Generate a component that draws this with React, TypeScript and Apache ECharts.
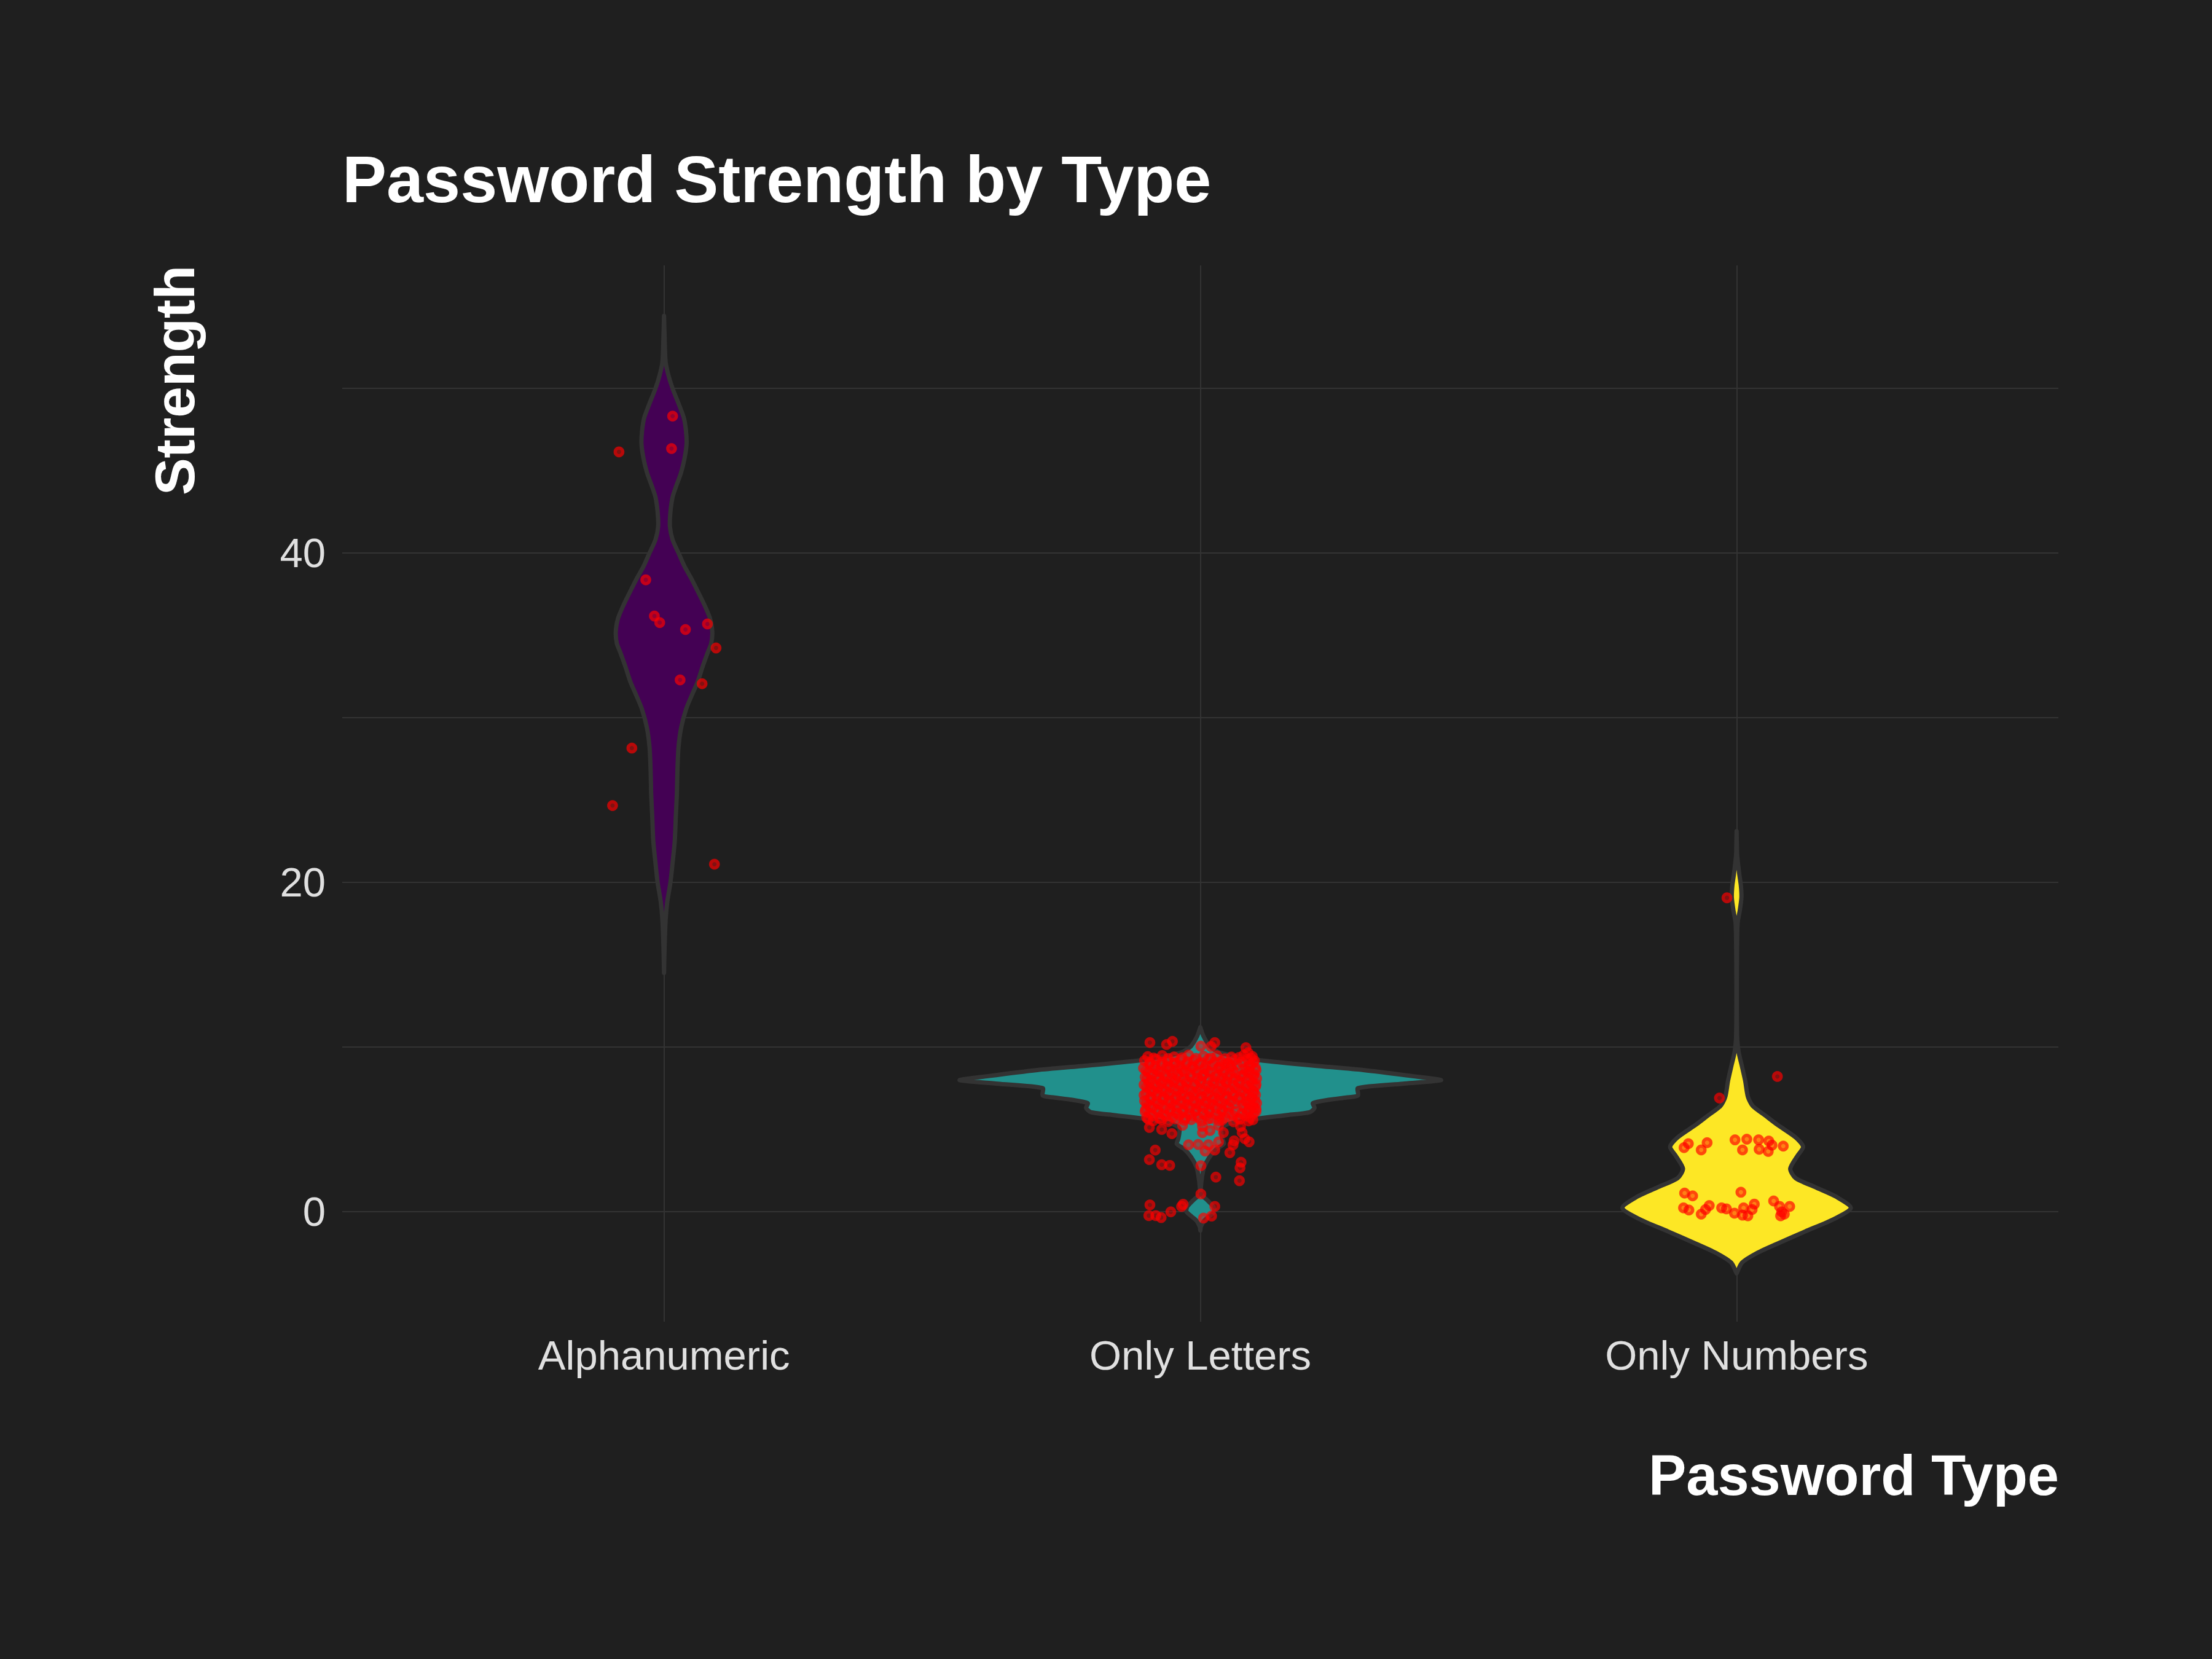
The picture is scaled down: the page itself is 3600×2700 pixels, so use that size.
import React, { useEffect, useRef } from 'react';
import * as echarts from 'echarts';

// ---------- data ----------
const CATEGORIES = ['Alphanumeric', 'Only Letters', 'Only Numbers'];
const CATEGORY_POS = [1, 2, 3];
const Y_LABEL_TICKS = [0, 20, 40];
const Y_GRID_TICKS = [0, 10, 20, 30, 40, 50];
const VIOLIN_FILLS = ['#440154', '#21908C', '#FDE725'];

// violin outlines: [strength, half width in x-axis units]
const ALPHANUMERIC_VIOLIN = [
  [54.4, 0], [53.2, 0.001], [51.6, 0.003], [50.7, 0.009], [49.9, 0.017], [49.0, 0.028],
  [48.2, 0.037], [47.4, 0.041], [46.6, 0.042], [45.7, 0.038], [44.8, 0.031], [44.0, 0.022],
  [43.4, 0.016], [42.5, 0.012], [41.6, 0.011], [40.8, 0.016], [40.0, 0.027], [39.2, 0.038],
  [38.5, 0.050], [37.6, 0.064], [36.8, 0.076], [36.0, 0.086], [35.2, 0.090], [34.5, 0.088],
  [34.0, 0.082], [33.1, 0.072], [32.2, 0.063], [31.3, 0.051], [30.5, 0.041], [29.4, 0.032],
  [28.2, 0.027], [26.8, 0.025], [25.4, 0.024], [24.0, 0.022], [22.5, 0.020], [21.2, 0.016],
  [20.0, 0.012], [18.8, 0.006], [17.7, 0.003], [16.0, 0.001], [14.5, 0],
];
const LETTERS_VIOLIN = [
  [11.2, 0], [10.65, 0.006], [10.03, 0.018], [9.65, 0.037], [9.40, 0.074], [9.20, 0.111],
  [8.87, 0.211], [8.60, 0.304], [8.23, 0.396], [7.98, 0.449], [7.77, 0.378], [7.50, 0.294],
  [7.05, 0.294], [6.93, 0.272], [6.80, 0.241], [6.59, 0.210], [6.30, 0.213], [6.04, 0.204],
  [5.86, 0.160], [5.67, 0.111], [5.48, 0.073], [5.30, 0.050], [5.05, 0.039], [4.43, 0.041],
  [4.12, 0.044], [3.80, 0.030], [3.31, 0.017], [2.69, 0.007], [2.06, 0.003], [1.44, 0.001],
  [1.07, 0.001], [0.70, 0.013], [0.32, 0.024], [0.01, 0.026], [-0.30, 0.016], [-0.55, 0.007],
  [-0.92, 0.001], [-1.15, 0],
];
const NUMBERS_VIOLIN = [
  [23.1, 0], [22.3, 0.0005], [21.65, 0.001], [20.5, 0.005], [19.8, 0.008], [19.08, 0.009],
  [18.3, 0.006], [17.56, 0.002], [16.5, 0.001], [13.66, 0.0004], [10.6, 0.001], [9.66, 0.004],
  [8.89, 0.0095], [7.95, 0.016], [6.99, 0.021], [6.42, 0.030], [5.8, 0.055], [5.28, 0.076],
  [4.51, 0.110], [3.94, 0.124], [3.37, 0.113], [2.61, 0.100], [2.04, 0.110], [1.47, 0.148],
  [0.90, 0.186], [0.23, 0.213], [-0.44, 0.182], [-1.20, 0.128], [-1.96, 0.075], [-2.53, 0.037],
  [-3.1, 0.010], [-3.75, 0],
];

// jittered points: [horizontal jitter, strength]
const ALPHANUMERIC_POINTS = [
  [0.016, 48.31], [0.014, 46.34], [-0.084, 46.14], [-0.034, 38.37], [-0.018, 36.17],
  [-0.008, 35.77], [0.040, 35.35], [0.081, 35.69], [0.097, 34.23], [0.030, 32.29],
  [0.071, 32.06], [-0.060, 28.15], [-0.096, 24.66], [0.094, 21.10],
];
const NUMBERS_POINTS = [
  [-0.018, 19.06], [0.076, 8.21], [-0.032, 6.90],
  [-0.090, 4.13], [-0.098, 3.89], [-0.055, 4.19], [-0.066, 3.75], [-0.003, 4.36],
  [0.019, 4.40], [0.011, 3.75], [0.041, 4.36], [0.042, 3.79], [0.060, 4.29],
  [0.066, 4.04], [0.059, 3.66], [0.087, 3.98],
  [-0.097, 1.13], [-0.082, 0.96], [0.008, 1.18], [-0.099, 0.23], [-0.089, 0.10],
  [-0.066, -0.15], [-0.058, 0.13], [-0.051, 0.37], [-0.028, 0.23], [-0.019, 0.17],
  [-0.004, -0.09], [0.013, 0.23], [0.011, -0.21], [0.021, -0.25], [0.029, 0.13],
  [0.033, 0.46], [0.069, 0.65], [0.080, 0.32], [0.089, -0.15], [0.099, 0.32],
  [0.084, -0.01], [0.082, -0.25],
];
const LETTERS_OUTER_POINTS = [
  [-0.094, 10.27], [-0.063, 10.15], [-0.052, 10.34], [0.001, 10.05], [0.027, 10.27],
  [0.020, 10.03], [0.085, 9.96], [0.089, 9.65],
  [-0.095, 5.11], [-0.072, 4.99], [-0.053, 4.74], [-0.033, 5.24], [0.004, 5.18],
  [0.004, 4.80], [0.018, 4.93], [0.034, 5.24], [0.043, 4.80], [0.075, 5.18],
  [0.078, 4.80], [0.083, 4.43], [0.063, 4.30], [0.091, 4.24], [-0.022, 4.06],
  [-0.004, 4.08], [0.015, 4.06], [0.034, 4.24], [0.009, 3.68], [0.027, 3.74],
  [0.061, 4.06], [0.055, 3.58], [-0.084, 3.74], [-0.095, 3.16], [-0.072, 2.85],
  [-0.057, 2.81], [0.076, 3.00], [0.074, 2.66], [0.001, 2.79], [0.029, 2.10],
  [0.073, 1.88], [0.001, 1.07], [-0.094, 0.41], [-0.035, 0.32], [-0.032, 0.45],
  [-0.055, -0.01], [-0.096, -0.24], [-0.083, -0.24], [-0.073, -0.36], [0.027, 0.32],
  [0.006, -0.39], [0.021, -0.27],
];
const LETTERS_CLUSTER_A = [
  [-0.098, 9.42], [-0.071, 9.48], [-0.049, 9.40], [-0.022, 9.51], [0.006, 9.44],
  [0.031, 9.47], [0.058, 9.39], [0.081, 9.50], [0.097, 9.43],
  [-0.104, 9.18], [-0.083, 9.25], [-0.061, 9.15], [-0.037, 9.22], [-0.012, 9.19],
  [0.015, 9.27], [0.039, 9.14], [0.064, 9.21], [0.088, 9.26], [0.101, 9.17],
  [-0.095, 8.97], [-0.072, 8.91], [-0.047, 9.01], [-0.026, 8.93], [-0.003, 8.98],
  [0.022, 8.90], [0.046, 8.99], [0.069, 8.95], [0.094, 8.92],
  [-0.106, 8.72], [-0.084, 8.66], [-0.058, 8.75], [-0.035, 8.69], [-0.014, 8.74],
  [0.009, 8.67], [0.034, 8.71], [0.055, 8.78], [0.083, 8.68], [0.103, 8.73],
  [-0.097, 8.44], [-0.075, 8.49], [-0.051, 8.41], [-0.029, 8.47], [-0.005, 8.43],
  [0.018, 8.50], [0.043, 8.45], [0.066, 8.40], [0.091, 8.48],
  [-0.103, 8.18], [-0.080, 8.23], [-0.063, 8.15], [-0.041, 8.21], [-0.017, 8.17],
  [0.004, 8.24], [0.028, 8.19], [0.051, 8.16], [0.075, 8.22], [0.099, 8.20],
  [-0.092, 7.97], [-0.069, 7.93], [-0.046, 7.99], [-0.024, 7.91], [0.001, 7.96],
  [0.024, 7.98], [0.047, 7.92], [0.071, 7.95], [0.094, 7.99],
  [-0.105, 7.71], [-0.086, 7.67], [-0.061, 7.74], [-0.038, 7.69], [-0.011, 7.72],
  [0.012, 7.66], [0.037, 7.73], [0.061, 7.70], [0.085, 7.68], [0.104, 7.74],
  [-0.094, 7.46], [-0.072, 7.42], [-0.049, 7.48], [-0.027, 7.44], [-0.002, 7.41],
  [0.021, 7.47], [0.044, 7.43], [0.068, 7.49], [0.091, 7.45],
  [-0.101, 7.19], [-0.079, 7.23], [-0.057, 7.17], [-0.033, 7.21], [-0.009, 7.24],
  [0.015, 7.18], [0.039, 7.22], [0.059, 7.16], [0.082, 7.20], [0.100, 7.25],
  [-0.093, 6.96], [-0.068, 6.92], [-0.044, 6.99], [-0.020, 6.94], [0.003, 6.97],
  [0.027, 6.91], [0.050, 6.98], [0.074, 6.93], [0.096, 6.95],
  [-0.104, 6.72], [-0.082, 6.68], [-0.059, 6.74], [-0.036, 6.69], [-0.013, 6.71],
  [0.010, 6.66], [0.033, 6.73], [0.057, 6.70], [0.086, 6.67], [0.102, 6.74],
  [-0.096, 6.44], [-0.073, 6.48], [-0.050, 6.42], [-0.025, 6.47], [-0.001, 6.43],
  [0.024, 6.49], [0.047, 6.41], [0.079, 6.46], [0.098, 6.50],
  [-0.102, 6.21], [-0.081, 6.17], [-0.056, 6.23], [-0.032, 6.18], [-0.008, 6.24],
  [0.016, 6.19], [0.040, 6.22], [0.091, 6.16], [0.104, 6.25],
  [-0.095, 5.96], [-0.070, 5.92], [-0.045, 5.98], [-0.021, 5.93], [0.005, 5.97],
  [0.029, 5.91], [0.053, 5.99], [0.077, 5.94], [0.099, 5.96],
  [-0.100, 5.71], [-0.076, 5.67], [-0.052, 5.74], [-0.028, 5.69], [-0.004, 5.72],
  [0.020, 5.66], [0.046, 5.73], [0.070, 5.68], [0.093, 5.70],
  [-0.088, 5.52], [-0.060, 5.47], [-0.030, 5.55], [0.002, 5.49], [0.035, 5.53],
  [0.062, 5.46], [0.090, 5.51],
];
const LETTERS_CLUSTER_B = [
  [-0.087, 9.33], [-0.060, 9.30], [-0.034, 9.35], [-0.008, 9.31], [0.020, 9.34],
  [0.046, 9.29], [0.072, 9.36], [0.095, 9.32],
  [-0.094, 9.06], [-0.071, 9.09], [-0.048, 9.04], [-0.024, 9.10], [0.002, 9.05],
  [0.027, 9.08], [0.052, 9.03], [0.077, 9.09], [0.099, 9.06],
  [-0.085, 8.83], [-0.062, 8.80], [-0.040, 8.85], [-0.016, 8.81], [0.010, 8.84],
  [0.036, 8.79], [0.058, 8.86], [0.090, 8.82],
  [-0.101, 8.58], [-0.079, 8.55], [-0.057, 8.60], [-0.033, 8.56], [-0.009, 8.59],
  [0.014, 8.54], [0.039, 8.61], [0.061, 8.57], [0.085, 8.55], [0.104, 8.59],
  [-0.090, 8.33], [-0.066, 8.30], [-0.043, 8.35], [-0.019, 8.31], [0.007, 8.34],
  [0.032, 8.29], [0.056, 8.36], [0.081, 8.31], [0.100, 8.34],
  [-0.099, 8.08], [-0.077, 8.05], [-0.054, 8.10], [-0.030, 8.06], [-0.006, 8.09],
  [0.016, 8.04], [0.040, 8.11], [0.064, 8.07], [0.088, 8.05], [0.105, 8.09],
  [-0.096, 7.83], [-0.073, 7.80], [-0.050, 7.85], [-0.026, 7.81], [0.000, 7.84],
  [0.025, 7.79], [0.049, 7.86], [0.073, 7.82], [0.097, 7.80],
  [-0.100, 7.58], [-0.079, 7.55], [-0.056, 7.60], [-0.031, 7.56], [-0.007, 7.59],
  [0.017, 7.54], [0.041, 7.61], [0.064, 7.57], [0.087, 7.55], [0.103, 7.60],
  [-0.088, 7.33], [-0.065, 7.30], [-0.041, 7.35], [-0.017, 7.31], [0.008, 7.34],
  [0.031, 7.29], [0.054, 7.36], [0.077, 7.32], [0.098, 7.30],
  [-0.105, 7.08], [-0.082, 7.05], [-0.061, 7.10], [-0.037, 7.06], [-0.013, 7.09],
  [0.011, 7.04], [0.035, 7.11], [0.062, 7.07], [0.086, 7.05], [0.103, 7.09],
  [-0.092, 6.83], [-0.069, 6.80], [-0.047, 6.85], [-0.024, 6.81], [0.000, 6.84],
  [0.022, 6.79], [0.046, 6.86], [0.069, 6.82], [0.094, 6.80],
  [-0.100, 6.58], [-0.078, 6.55], [-0.054, 6.60], [-0.030, 6.56], [-0.006, 6.59],
  [0.018, 6.54], [0.041, 6.61], [0.064, 6.57], [0.090, 6.55], [0.105, 6.59],
  [-0.090, 6.33], [-0.066, 6.30], [-0.043, 6.35], [-0.019, 6.31], [0.006, 6.34],
  [0.030, 6.29], [0.053, 6.36], [0.082, 6.32], [0.099, 6.30],
  [-0.103, 6.08], [-0.078, 6.05], [-0.057, 6.10], [-0.033, 6.06], [-0.009, 6.09],
  [0.017, 6.04], [0.041, 6.11], [0.065, 6.07], [0.088, 6.05], [0.104, 6.09],
  [-0.088, 5.83], [-0.064, 5.80], [-0.039, 5.85], [-0.015, 5.81], [0.011, 5.84],
  [0.036, 5.79], [0.060, 5.86], [0.084, 5.82],
  [-0.097, 5.61], [-0.072, 5.58], [-0.046, 5.63], [-0.017, 5.59], [0.014, 5.62],
  [0.041, 5.57], [0.074, 5.61], [0.098, 5.58],
];
const LETTERS_POINTS = [...LETTERS_OUTER_POINTS, ...LETTERS_CLUSTER_A, ...LETTERS_CLUSTER_B];

const VIOLINS = [ALPHANUMERIC_VIOLIN, LETTERS_VIOLIN, NUMBERS_VIOLIN];
const POINT_SETS = [ALPHANUMERIC_POINTS, LETTERS_POINTS, NUMBERS_POINTS];

// ---------- styles ----------
const BG = '#1F1F1F';
const GRID_COLOR = '#333333';
const OUTLINE = '#333333';
const FONT = '"Liberation Sans", Arial, Helvetica, sans-serif';
const POINT_RGBA = 'rgba(255,0,0,0.55)';

function buildOption() {
  const scatterData: number[][] = [];
  POINT_SETS.forEach((pts, i) => {
    pts.forEach(([j, v]) => scatterData.push([CATEGORY_POS[i] + j, v]));
  });

  return {
    animation: false,
    backgroundColor: BG,
    grid: { left: 557, right: 250, top: 432, bottom: 549, containLabel: false, outerBoundsMode: 'none' },
    xAxis: {
      type: 'value',
      min: 0.4,
      max: 3.6,
      axisLine: { show: false },
      axisTick: { show: false, customValues: CATEGORY_POS },
      axisLabel: {
        customValues: CATEGORY_POS,
        formatter: (v: number) => CATEGORIES[Math.round(v) - 1] ?? '',
        color: '#E0E0E0',
        fontSize: 67,
        fontFamily: FONT,
        margin: 21,
      },
      splitLine: { show: true, lineStyle: { color: GRID_COLOR, width: 2 } },
    },
    yAxis: {
      type: 'value',
      min: -6.68,
      max: 57.46,
      axisLine: { show: false },
      axisTick: { show: false, customValues: Y_GRID_TICKS },
      axisLabel: {
        customValues: Y_LABEL_TICKS,
        color: '#E0E0E0',
        fontSize: 67,
        fontFamily: FONT,
        margin: 27,
      },
      splitLine: { show: true, lineStyle: { color: GRID_COLOR, width: 2 } },
    },
    graphic: [
      {
        type: 'text', x: 557, y: 291, z: 10,
        style: { text: 'Password Strength by Type', font: `bold 108px ${FONT}`, fill: '#FFFFFF', textAlign: 'left', textVerticalAlign: 'middle' },
      },
      {
        type: 'text', x: 3351, y: 2401, z: 10,
        style: { text: 'Password Type', font: `bold 92px ${FONT}`, fill: '#FFFFFF', textAlign: 'right', textVerticalAlign: 'middle' },
      },
      {
        type: 'text', x: 284, y: 432, rotation: Math.PI / 2, z: 10,
        style: { text: 'Strength', font: `bold 91px ${FONT}`, fill: '#FFFFFF', textAlign: 'right', textVerticalAlign: 'middle' },
      },
    ],
    series: [
      {
        type: 'custom',
        z: 2,
        data: CATEGORY_POS.map((c) => [c, 0]),
        encode: { x: 0, y: 1 },
        renderItem: (params: any, api: any) => {
          const i = params.dataIndex;
          const center = api.value(0);
          const prof = VIOLINS[i];
          const right = prof.map(([y, w]) => api.coord([center + w, y]));
          const left = prof.slice().reverse().map(([y, w]) => api.coord([center - w, y]));
          return {
            type: 'polygon',
            shape: { points: right.concat(left), smooth: 0.25 },
            style: { fill: VIOLIN_FILLS[i], stroke: OUTLINE, lineWidth: 7, lineJoin: 'round' },
          };
        },
      },
      {
        type: 'scatter',
        z: 3,
        data: scatterData,
        symbol: 'circle',
        symbolSize: 18,
        itemStyle: { color: POINT_RGBA, borderWidth: 0 },
      },
      {
        type: 'scatter',
        z: 4,
        data: scatterData,
        symbol: 'circle',
        symbolSize: 12,
        itemStyle: { color: 'rgba(0,0,0,0)', borderColor: POINT_RGBA, borderWidth: 5 },
      },
    ],
  };
}

export default function App() {
  const ref = useRef<HTMLDivElement>(null);
  useEffect(() => {
    if (!ref.current) return;
    const chart = echarts.init(ref.current, null, { renderer: 'svg', width: 3600, height: 2700 });
    chart.setOption(buildOption() as any);
    return () => chart.dispose();
  }, []);
  return (
    <div
      ref={ref}
      style={{ position: 'absolute', left: 0, top: 0, width: 3600, height: 2700, background: BG }}
    />
  );
}
